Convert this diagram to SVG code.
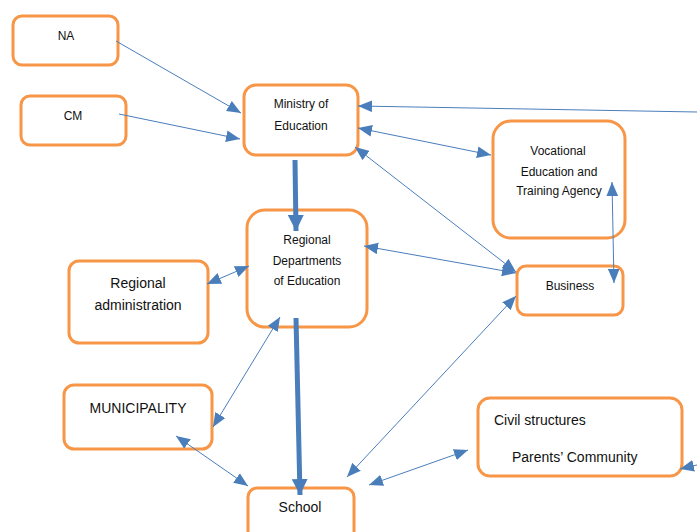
<svg xmlns="http://www.w3.org/2000/svg" width="697" height="532" viewBox="0 0 697 532">
<style>
.box{fill:#fff;stroke:#F79646;stroke-width:3}
.t{font-family:"Liberation Sans",Arial,sans-serif;font-size:12px;fill:#111;text-anchor:middle}
.L{font-size:14px}
.c{stroke:#4A7EBB;stroke-width:1;fill:none}
.thick{stroke:#4A7EBB;stroke-width:5;fill:none}
</style>
<defs>
<marker id="a" markerUnits="userSpaceOnUse" markerWidth="14" markerHeight="12" refX="12" refY="5" orient="auto-start-reverse" viewBox="0 0 12 10">
<path d="M0,0 L12,5 L0,10 Z" fill="#4A7EBB"/>
</marker>
<marker id="b" markerUnits="userSpaceOnUse" markerWidth="16" markerHeight="16" refX="16" refY="8" orient="auto" viewBox="0 0 16 16">
<path d="M0,0 L16,8 L0,16 Z" fill="#4A7EBB"/>
</marker>
</defs>
<g id="NA"><rect class="box" x="13" y="16" width="105" height="49" rx="9"/><text class="t" x="66" y="40">NA</text></g>
<g id="CM"><rect class="box" x="21" y="96" width="105" height="49" rx="9"/><text class="t" x="73" y="120">CM</text></g>
<g id="ministry"><rect class="box" x="244" y="85" width="114" height="70" rx="12"/><text class="t" x="301" y="108">Ministry  of</text><text class="t" x="301" y="130">Education</text></g>
<g id="vocational"><rect class="box" x="493" y="121" width="132" height="117" rx="18"/><text class="t" x="558" y="155">Vocational</text><text class="t" x="559" y="176">Education  and</text><text class="t" x="559" y="195">Training  Agency</text></g>
<g id="regional-dept"><rect class="box" x="247" y="210" width="120" height="117" rx="18"/><text class="t" x="307" y="244">Regional</text><text class="t" x="307" y="265">Departments</text><text class="t" x="307" y="285">of Education</text></g>
<g id="regional-admin"><rect class="box" x="69" y="261" width="139" height="82" rx="10"/><text class="t L" x="138" y="288">Regional</text><text class="t L" x="138" y="310">administration</text></g>
<g id="business"><rect class="box" x="517" y="266" width="106" height="49" rx="9"/><text class="t" x="570" y="290">Business</text></g>
<g id="municipality"><rect class="box" x="64" y="385" width="148" height="64" rx="10"/><text class="t L" x="138" y="413">MUNICIPALITY</text></g>
<g id="school"><rect class="box" x="248" y="488" width="106" height="60" rx="9"/><text class="t L" x="300" y="512">School</text></g>
<g id="civil"><rect class="box" x="478" y="398" width="204" height="78" rx="12"/><text class="t L" x="494" y="425" style="text-anchor:start">Civil structures</text><text class="t L" x="512" y="462" style="text-anchor:start">Parents’ Community</text></g>
<g id="connectors">
<line class="c" x1="116" y1="41" x2="241" y2="113" marker-end="url(#a)"/>
<line class="c" x1="119" y1="114" x2="240" y2="139" marker-end="url(#a)"/>
<line class="c" x1="697" y1="112" x2="358" y2="106" marker-end="url(#a)"/>
<line class="c" x1="358" y1="128" x2="491" y2="155" marker-start="url(#a)" marker-end="url(#a)"/>
<line class="c" x1="355" y1="147" x2="516" y2="272" marker-start="url(#a)" marker-end="url(#a)"/>
<line class="c" x1="612" y1="182" x2="614" y2="283" marker-start="url(#a)" marker-end="url(#a)"/>
<line class="c" x1="364" y1="246" x2="516" y2="273" marker-start="url(#a)" marker-end="url(#a)"/>
<line class="c" x1="207" y1="284" x2="249" y2="266" marker-start="url(#a)" marker-end="url(#a)"/>
<line class="c" x1="280" y1="317" x2="213" y2="427" marker-start="url(#a)" marker-end="url(#a)"/>
<line class="c" x1="176" y1="436" x2="248" y2="486" marker-start="url(#a)" marker-end="url(#a)"/>
<line class="c" x1="516" y1="296" x2="347" y2="477" marker-start="url(#a)" marker-end="url(#a)"/>
<line class="c" x1="468" y1="450" x2="369" y2="485" marker-start="url(#a)" marker-end="url(#a)"/>
<line class="c" x1="697" y1="465" x2="680" y2="469" marker-end="url(#a)"/>
<line class="thick" x1="295" y1="160" x2="296" y2="231" marker-end="url(#b)"/>
<line class="thick" x1="296" y1="318" x2="300" y2="495" marker-end="url(#b)"/>
</g>
</svg>
